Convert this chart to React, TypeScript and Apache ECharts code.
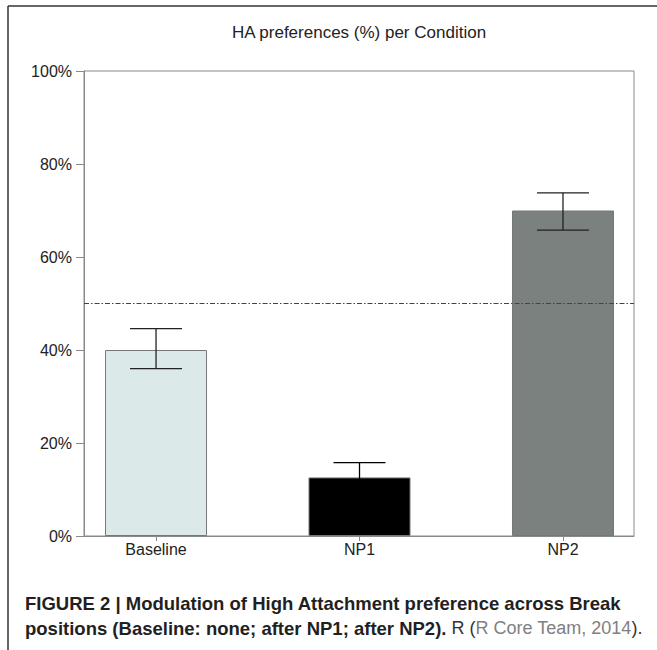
import React, { useEffect, useRef } from "react";
import * as echarts from "echarts";

const categories = ["Baseline", "NP1", "NP2"];
const positions = [1, 2, 3];
const values = [40, 12.6, 70];
const errLow = [36.0, 9.4, 65.8];
const errHigh = [44.6, 15.8, 73.8];
const barColors = ["#dce9e9", "#000000", "#7a817f"];
const errColors = ["#222222", "#000000", "#222222"];
const yTicks = [0, 20, 40, 60, 80, 100];
const chanceLevel = 50;

const FONT = "'Liberation Sans', Arial, Helvetica, sans-serif";

export default function App() {
  const ref = useRef<HTMLDivElement>(null);
  useEffect(() => {
    document.body.style.margin = "0";
    if (!ref.current) return;
    const chart = echarts.init(ref.current, undefined, { renderer: "svg" });
    const option: any = {
      animation: false,
      backgroundColor: "#ffffff",
      grid: {
        left: 84,
        top: 71,
        width: 550,
        height: 465,
        show: true,
        borderColor: "#8a8a8a",
        borderWidth: 1,
        backgroundColor: "transparent",
      },
      xAxis: {
        type: "value",
        min: 0.646,
        max: 3.349,
        splitLine: { show: false },
        axisLine: { show: true, lineStyle: { color: "#8a8a8a", width: 1 } },
        axisTick: {
          show: true,
          customValues: positions,
          length: 5,
          lineStyle: { color: "#8a8a8a" },
        },
        axisLabel: {
          show: true,
          customValues: positions,
          formatter: (v: number) => categories[Math.round(v) - 1] ?? "",
          fontSize: 16,
          fontFamily: FONT,
          color: "#222",
          margin: 5,
        },
      },
      yAxis: {
        type: "value",
        min: 0,
        max: 100,
        interval: 20,
        splitLine: { show: false },
        axisLine: { show: true, lineStyle: { color: "#8a8a8a", width: 1 } },
        axisTick: { show: true, length: 8, lineStyle: { color: "#8a8a8a" } },
        axisLabel: {
          formatter: (v: number) => (yTicks.includes(v) ? v + "%" : ""),
          fontSize: 16,
          fontFamily: FONT,
          color: "#222",
          margin: 12,
        },
      },
      series: [
        {
          type: "bar",
          barWidth: 102,
          data: positions.map((p, i) => ({
            value: [p, values[i]],
            itemStyle: {
              color: barColors[i],
              borderColor: "#777",
              borderWidth: 1,
            },
          })),
          markLine: {
            silent: true,
            symbol: "none",
            label: { show: false },
            lineStyle: { color: "#444", width: 1, type: [5, 2, 1.5, 2] },
            data: [{ yAxis: chanceLevel }],
          },
          z: 2,
        },
        {
          type: "custom",
          z: 5,
          data: positions.map((p, i) => [p, errLow[i], errHigh[i], i]),
          renderItem: (params: any, api: any) => {
            const x = api.value(0);
            const lo = api.coord([x, api.value(1)]);
            const hi = api.coord([x, api.value(2)]);
            const idx = api.value(3);
            const half = 26;
            const style = { stroke: errColors[idx], lineWidth: 1.3 };
            return {
              type: "group",
              children: [
                { type: "line", shape: { x1: lo[0], y1: lo[1], x2: hi[0], y2: hi[1] }, style },
                { type: "line", shape: { x1: hi[0] - half, y1: hi[1], x2: hi[0] + half, y2: hi[1] }, style },
                { type: "line", shape: { x1: lo[0] - half, y1: lo[1], x2: lo[0] + half, y2: lo[1] }, style },
              ],
            };
          },
        },
      ],
      graphic: [
        {
          type: "line",
          shape: { x1: 8, y1: 6, x2: 8, y2: 650 },
          style: { stroke: "#333", lineWidth: 1.5 },
        },
        {
          type: "line",
          shape: { x1: 8, y1: 6, x2: 657, y2: 6 },
          style: { stroke: "#333", lineWidth: 1.5 },
        },
        {
          type: "text",
          x: 359,
          y: 32,
          style: {
            text: "HA preferences (%) per Condition",
            font: `17px ${FONT}`,
            fill: "#222",
            textAlign: "center",
            textVerticalAlign: "middle",
          },
        },
        {
          type: "text",
          x: 25,
          y: 603,
          style: {
            text: "FIGURE 2 | Modulation of High Attachment preference across Break",
            font: `bold 18.5px ${FONT}`,
            fill: "#231f20",
            textAlign: "left",
            textVerticalAlign: "middle",
          },
        },
        {
          type: "text",
          x: 25,
          y: 628,
          style: {
            text: "{b|positions (Baseline: none; after NP1; after NP2).}{n| R (}{l|R Core Team, 2014}{n|).}",
            textAlign: "left",
            textVerticalAlign: "middle",
            rich: {
              b: { font: `bold 18.5px ${FONT}`, fill: "#231f20" },
              n: { font: `18px ${FONT}`, fill: "#333" },
              l: { font: `18px ${FONT}`, fill: "#808080" },
            },
          },
        },
      ],
    };
    chart.setOption(option);
    return () => chart.dispose();
  }, []);
  return <div ref={ref} style={{ width: 657, height: 650 }} />;
}
